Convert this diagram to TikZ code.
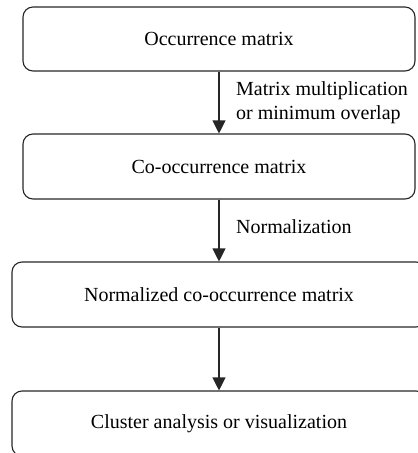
\documentclass[tikz,border=0pt]{standalone}
\usepackage{fontspec}
\setmainfont{Liberation Serif}
\usetikzlibrary{arrows.meta}
\begin{document}
\begin{tikzpicture}[x=1pt,y=-1pt,
  box/.style={draw=black!85, rounded corners=10pt, line width=1.1pt, inner sep=0pt,
    font=\fontsize{20}{24}\selectfont},
  lbl/.style={anchor=west, inner sep=0pt, align=left,
    font=\fontsize{20}{24}\selectfont},
  arr/.style={-{Triangle[length=13pt,width=13pt]}, line width=1.1pt, draw=black!85, fill=black}]
\useasboundingbox (0,0) rectangle (418,453);
\node[box, minimum width=392pt, minimum height=64pt] (b1) at (219,39) {Occurrence matrix};
\node[box, minimum width=392pt, minimum height=65pt] (b2) at (219,166.5) {Co-occurrence matrix};
\node[box, minimum width=414pt, minimum height=65pt] (b3) at (219,294.5) {Normalized co-occurrence matrix};
\node[box, minimum width=414pt, minimum height=65pt] (b4) at (219,423.5) {Cluster analysis or visualization};
\draw[arr] (b1.south) -- (b2.north);
\draw[arr] (b2.south) -- (b3.north);
\draw[arr] (b3.south) -- (b4.north);
\node[lbl] (l1) at (236,103) {Matrix multiplication\\or minimum overlap};
\node[lbl] (l2) at (236,227) {Normalization};
\end{tikzpicture}
\end{document}
